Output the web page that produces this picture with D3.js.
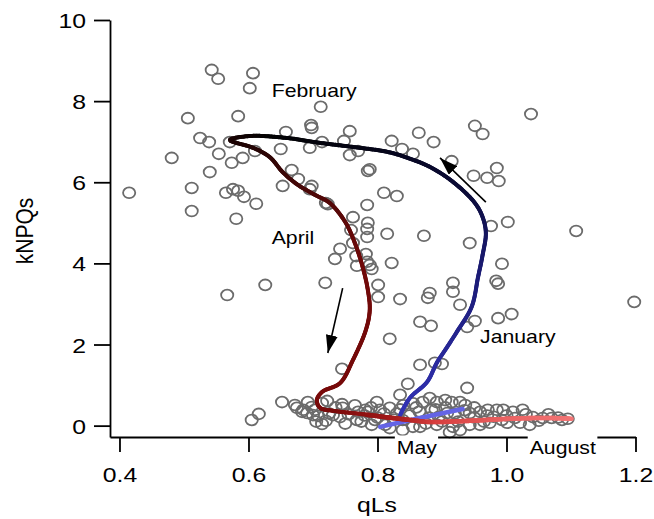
<!DOCTYPE html>
<html>
<head>
<meta charset="utf-8">
<script src="https://cdn.jsdelivr.net/npm/d3@7"></script>
<style>
body{margin:0;background:#fff;}
text{font-family:"Liberation Sans",Arial,sans-serif;fill:#000;}
</style>
</head>
<body>
<div id="viz"></div>
<script>
// scatter: daily qLs / kNPQs
var qLs = [0.543,0.553,0.607,0.602,0.506,0.584,0.525,0.539,0.571,0.481,0.554,0.574,0.591,0.610,0.540,0.512,0.415,0.565,0.576,0.584,
  0.593,0.612,0.512,0.581,0.658,0.650,0.697,0.698,0.712,0.714,0.695,0.667,0.677,0.653,0.698,0.695,0.720,0.757,0.748,0.770,
  0.757,0.822,0.838,0.855,0.864,0.887,0.951,0.963,1.038,0.915,0.949,0.970,0.985,0.988,0.785,0.788,0.810,0.830,0.723,0.784,
  0.762,0.785,0.784,0.784,0.815,0.872,0.759,0.762,0.742,0.734,0.767,0.782,0.784,0.788,0.791,0.768,0.822,0.976,1.002,1.108,
  0.943,0.993,0.984,0.987,0.917,0.917,0.928,1.198,0.987,1.008,0.951,0.939,0.626,0.567,0.719,0.801,0.801,0.835,0.881,0.878,
  0.866,0.883,0.819,0.745,0.866,0.889,0.900,0.847,0.939,0.835,0.652,0.672,0.692,0.685,0.605,0.616,0.714,
  0.675,0.683,0.691,0.698,0.700,0.703,0.708,0.714,0.722,0.731,0.742,0.745,0.746,0.768,0.770,0.781,0.785,0.791,0.799,0.804,
  0.796,0.812,0.819,0.819,0.839,0.839,0.855,0.866,0.870,0.881,0.884,0.892,0.892,0.905,0.908,0.912,0.915,0.917,0.928,0.928,
  0.936,0.943,0.943,0.959,0.959,0.971,0.974,0.985,0.993,0.995,1.001,1.010,1.013,1.021,1.025,1.036,1.041,1.056,1.070,1.086,
  1.095,0.720,0.750,0.780,0.830,0.860,0.880,0.900,0.950,0.970,0.840,0.800,
  0.705,0.725,0.735,0.755,0.765,0.775,0.790,0.810,0.825,0.835,0.850,0.855,0.865,0.875,0.890,0.895,0.905,0.920,0.925,0.935,
  0.950,0.965,0.980,1.000,1.030,1.050,1.065,1.080];
var kNPQs = [8.77,8.55,8.69,8.32,7.58,7.63,7.09,6.99,6.99,6.60,6.70,6.48,6.60,6.77,6.25,5.86,5.74,5.74,5.83,5.79,
  5.64,5.47,5.29,5.10,7.24,6.82,7.41,7.34,7.86,6.99,6.85,6.30,6.08,5.91,5.91,5.83,5.49,7.26,7.02,6.77,
  6.67,7.02,6.82,6.70,7.22,6.99,7.39,7.19,7.68,6.52,6.16,6.11,6.35,6.03,6.28,6.32,5.74,5.66,5.46,5.44,
  5.14,5.00,4.85,4.65,4.73,4.68,4.82,4.50,4.36,4.11,4.18,4.23,4.04,3.96,3.86,3.94,4.01,4.92,5.02,4.80,
  4.50,3.99,3.57,3.50,3.52,3.30,2.98,3.05,2.65,2.75,2.58,2.43,3.47,3.22,3.52,3.47,3.17,3.12,3.27,3.15,
  2.56,2.46,2.14,1.40,1.50,1.55,1.52,1.03,0.93,0.76,0.58,0.51,0.58,0.39,0.14,0.29,0.04,
  0.44,0.34,0.31,0.46,0.26,0.39,0.24,0.56,0.61,0.26,0.21,0.53,0.44,0.14,0.34,0.39,0.34,0.02,0.58,0.39,
  0.14,0.02,0.44,-0.06,0.14,-0.11,-0.03,-0.03,0.58,0.68,0.39,0.58,0.02,0.63,0.31,-0.16,0.58,-0.03,0.58,-0.11,
  0.51,0.31,0.02,0.34,0.02,0.39,0.07,0.39,0.14,0.39,0.07,0.34,0.19,0.07,0.39,0.02,0.21,0.19,0.19,0.14,
  0.17,0.12,0.05,0.25,0.30,0.45,0.20,0.10,0.20,0.25,0.50,0.20,
  0.10,0.30,0.45,0.28,0.50,0.10,0.45,0.30,0.15,0.40,0.25,0.55,0.35,0.05,0.40,0.22,0.45,0.30,0.10,0.38,
  0.45,0.10,0.22,0.25,0.28,0.12,0.28,0.20];

// seasonal loop (smoothed), January -> August
var cycleQ = [0.835,0.850,0.877,0.892,0.908,0.923,0.946,0.956,0.963,0.968,0.963,0.951,0.917,0.881,0.847,0.815,0.762,0.711,0.660,0.602,
  0.571,0.607,0.633,0.653,0.677,0.703,0.726,0.750,0.765,0.777,0.785,0.788,0.782,0.762,0.742,0.714,0.706,0.711,0.734,0.773,
  0.812,0.850,0.881,0.943,1.005,1.060,1.101];
var cycleK = [0.26,0.68,1.08,1.55,1.94,2.31,2.93,3.67,4.21,4.75,5.14,5.49,6.01,6.38,6.60,6.75,6.87,6.97,7.09,7.14,
  7.04,6.85,6.62,6.25,5.93,5.69,5.49,5.02,4.50,3.91,3.35,2.85,2.36,1.62,1.05,0.83,0.63,0.44,0.36,0.29,
  0.21,0.14,0.09,0.12,0.17,0.19,0.17];
var cycleMonth = [1.00,1.04,1.08,1.12,1.16,1.20,1.25,1.30,1.36,1.42,1.48,1.55,1.65,1.75,1.85,1.95,2.10,2.25,2.40,2.60,
  2.75,2.85,2.95,3.05,3.15,3.25,3.35,3.50,3.65,3.80,3.95,4.05,4.15,4.30,4.45,4.55,4.65,4.72,4.80,4.88,
  4.95,5.10,5.30,5.80,6.50,7.30,8.00];

// late-season segment
var lateQ = [0.804,0.866,0.932];
var lateK = [-0.03,0.19,0.41];

// arrows [tail, tip]
var arrowTailQ = [0.968,0.746], arrowTailK = [5.51,3.39];
var arrowTipQ = [0.897,0.723], arrowTipK = [6.60,1.79];

// month labels
var labelText = ['February','April','January','May','August'];
var labelQ = [0.636,0.636,0.959,0.830,1.036];
var labelK = [8.10,4.48,2.04,-0.70,-0.70];

var xTicks = [0.4,0.6,0.8,1.0,1.2];
var yTicks = [0,2,4,6,8,10];

var width = 654, height = 519, SX = 1.18;

var x = d3.scaleLinear().domain([0.3853,1.2]).range([110,635.5]);
var y = d3.scaleLinear().domain([-0.28,10]).range([437,20]);

var monthColor = d3.scaleLinear()
  .domain([1,1.3,1.6,2.0,2.5,2.8,3.2,3.8,4.8,5.0,5.4,6.5,8])
  .range(['#3434b8','#1c1c78','#0c0c38','#050518','#030303','#1e0404','#4a0808','#700a0a','#7a0a0a','#a81c1c','#d84040','#ec6464','#f27474']);

var svg = d3.select('#viz').append('svg')
  .attr('width', width)
  .attr('height', height);

// scatter
svg.append('g').selectAll('ellipse').data(qLs)
  .enter().append('ellipse')
    .attr('cx', function(d){ return x(d); })
    .attr('cy', function(d, i){ return y(kNPQs[i]); })
    .attr('rx', 6.1)
    .attr('ry', 5.4)
    .attr('fill', 'none')
    .attr('stroke', '#6b6b6b')
    .attr('stroke-width', 1.8);

var line = d3.line()
  .x(function(d){ return x(d[0]); })
  .y(function(d){ return y(d[1]); })
  .curve(d3.curveCatmullRom.alpha(0.5));

// late segment (light blue)
svg.append('path')
  .attr('d', line(lateQ.map(function(q, i){ return [q, lateK[i]]; })))
  .attr('fill', 'none')
  .attr('stroke', '#6464e6')
  .attr('stroke-width', 4.5)
  .attr('stroke-linecap', 'round');

// main loop, coloured by month
var pts = cycleQ.map(function(q, i){ return [q, cycleK[i]]; });
var cum = [0];
for (var i = 1; i < pts.length; i++) {
  cum.push(cum[i-1] + Math.hypot(x(pts[i][0]) - x(pts[i-1][0]), y(pts[i][1]) - y(pts[i-1][1])));
}
var total = cum[cum.length-1];
var monthAt = d3.scaleLinear().domain(cum.map(function(c){ return c/total; })).range(cycleMonth);

var hidden = svg.append('path').attr('d', line(pts)).attr('fill', 'none').attr('stroke', 'none');
var node = hidden.node(), L = node.getTotalLength();
var n = Math.ceil(L/1.5);
var segs = svg.append('g');
var prev = node.getPointAtLength(0);
for (var j = 1; j <= n; j++) {
  var p = node.getPointAtLength(L*j/n);
  var m = monthAt((j-0.5)/n);
  segs.append('line')
    .attr('x1', prev.x).attr('y1', prev.y)
    .attr('x2', p.x).attr('y2', p.y)
    .attr('stroke', monthColor(m))
    .attr('stroke-width', m > 4.9 ? 4.6 : 4)
    .attr('stroke-linecap', 'round');
  prev = p;
}

// arrows
var defs = svg.append('defs');
defs.append('marker')
  .attr('id', 'head')
  .attr('markerUnits', 'userSpaceOnUse')
  .attr('viewBox', '0 0 18 12')
  .attr('refX', 18).attr('refY', 6)
  .attr('markerWidth', 18).attr('markerHeight', 12)
  .attr('orient', 'auto')
  .append('path').attr('d', 'M0,0L18,6L0,12Z').attr('fill', '#000');

svg.append('g').selectAll('line').data(arrowTailQ)
  .enter().append('line')
    .attr('x1', function(d){ return x(d); })
    .attr('y1', function(d, i){ return y(arrowTailK[i]); })
    .attr('x2', function(d, i){ return x(arrowTipQ[i]); })
    .attr('y2', function(d, i){ return y(arrowTipK[i]); })
    .attr('stroke', '#000')
    .attr('stroke-width', 1.6)
    .attr('marker-end', 'url(#head)');

// axes
var xAxis = svg.append('g')
  .attr('transform', 'translate(0,437)')
  .call(d3.axisBottom(x).tickValues(xTicks).tickFormat(d3.format('.1f')).tickSize(15).tickSizeOuter(0));
var yAxis = svg.append('g')
  .attr('transform', 'translate(110,0)')
  .call(d3.axisLeft(y).tickValues(yTicks).tickFormat(d3.format('d')).tickSize(16).tickSizeOuter(0));

[xAxis, yAxis].forEach(function(a){
  a.select('.domain').attr('stroke', '#000').attr('stroke-width', 1.8);
  a.selectAll('.tick line').attr('stroke', '#000').attr('stroke-width', 1.8);
  a.selectAll('.tick text').attr('font-size', 21).attr('font-family', '"Liberation Sans",Arial,sans-serif').attr('fill', '#000');
});
xAxis.selectAll('.tick text').attr('y', 45).attr('dy', 0).attr('transform', 'scale(' + SX + ',1)');
yAxis.selectAll('.tick text').attr('x', -24/SX).attr('dy', '0.36em').attr('transform', 'scale(' + SX + ',1)');

// axis titles
svg.append('text')
  .attr('transform', 'translate(377,512) scale(' + SX + ',1)')
  .attr('text-anchor', 'middle')
  .attr('font-size', 21)
  .text('qLs');
svg.append('text')
  .attr('transform', 'translate(33,231) scale(' + SX + ',1) rotate(-90)')
  .attr('text-anchor', 'middle')
  .attr('font-size', 21)
  .text('kNPQs');

// month labels (those under the axis get a white box)
labelText.forEach(function(t, i){
  var tx = x(labelQ[i]), ty = y(labelK[i]);
  var g = svg.append('g');
  var bg = g.append('rect').attr('fill', '#fff');
  var txt = g.append('text')
    .attr('transform', 'translate(' + tx + ',' + ty + ') scale(' + SX + ',1)')
    .attr('font-size', 18)
    .text(t);
  if (labelK[i] < 0) {
    var bb = txt.node().getBBox();
    bg.attr('x', tx + bb.x*SX - 2).attr('y', 435.5)
      .attr('width', bb.width*SX + 3).attr('height', ty + bb.y + bb.height + 3 - 435.5);
  } else {
    bg.remove();
  }
});
</script>
</body>
</html>
